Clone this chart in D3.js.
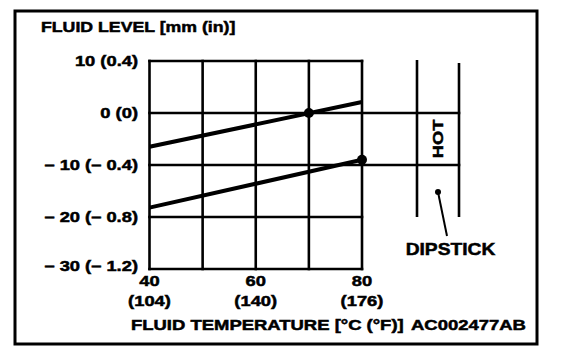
<!DOCTYPE html>
<html>
<head>
<meta charset="utf-8">
<script src="https://cdn.jsdelivr.net/npm/d3@7"></script>
<style>
  html, body { margin: 0; padding: 0; background: #fff; }
  svg { display: block; }
  text { font-family: "Liberation Sans", Arial, sans-serif; font-weight: bold; fill: #000; stroke: #000; stroke-width: 0.5; }
</style>
</head>
<body>
<svg id="chart" width="576" height="360"></svg>
<script>
// ---- data ----
const tempTicks = [40, 50, 60, 70, 80];
const labeledTemps = [40, 60, 80];
const labeledTempsF = ["(104)", "(140)", "(176)"];
const levelTicks = [10, 0, -10, -20, -30];
const levelLabels = ["10 (0.4)", "0 (0)", "\u2013 10 (\u2013 0.4)", "\u2013 20 (\u2013 0.8)", "\u2013 30 (\u2013 1.2)"];
const upperTemps = [40, 80];
const upperLevels = [-6.5, 2.1];
const lowerTemps = [40, 80];
const lowerLevels = [-18.2, -9.0];
const markerTemps = [70, 80];
const markerLevels = [0, -9.0];
const hotBand = [0, -10];
const yTitle = "FLUID LEVEL [mm (in)]";
const xTitle = "FLUID TEMPERATURE [\u00B0C (\u00B0F)]";
const figureCode = "AC002477AB";
const hotLabel = "HOT";
const dipstickLabel = "DIPSTICK";

// ---- layout ----
const svg = d3.select("#chart");
const x = d3.scaleLinear().domain([40, 80]).range([149.5, 362]);
const y = d3.scaleLinear().domain([10, -30]).range([61, 269]);
const STRETCH = 1.22;
const gridW = 2.6;

function stretchText(sel, k) {
  sel.each(function () {
    const len = this.getComputedTextLength();
    d3.select(this).attr("textLength", len * k).attr("lengthAdjust", "spacingAndGlyphs");
  });
  return sel;
}

// outer frame
svg.append("rect").attr("x", 15).attr("y", 11).attr("width", 522).attr("height", 333)
  .attr("fill", "none").attr("stroke", "#000").attr("stroke-width", 3);

// grid (vertical)
svg.append("g").selectAll("line").data(tempTicks).join("line")
  .attr("x1", d => x(d)).attr("x2", d => x(d))
  .attr("y1", y(10)).attr("y2", y(-30))
  .attr("stroke", "#000").attr("stroke-width", gridW).attr("stroke-linecap", "square");

// dipstick geometry
const dipL = 417, dipR = 459;

// grid (horizontal); the HOT band lines extend into the dipstick
svg.append("g").selectAll("line").data(levelTicks).join("line")
  .attr("x1", x(40))
  .attr("x2", d => hotBand.includes(d) ? dipR : x(80))
  .attr("y1", d => y(d)).attr("y2", d => y(d))
  .attr("stroke", "#000").attr("stroke-width", gridW).attr("stroke-linecap", "square");

// dipstick sides
svg.append("g").selectAll("line").data([dipL, dipR]).join("line")
  .attr("x1", d => d).attr("x2", d => d)
  .attr("y1", (d, i) => y(10) - (i === 0 ? 1 : -2)).attr("y2", y(-20))
  .attr("stroke", "#000").attr("stroke-width", gridW);

// data lines
const lineGen = d3.line().x(d => x(d[0])).y(d => y(d[1]));
[[upperTemps, upperLevels], [lowerTemps, lowerLevels]].forEach(([ts, vs]) => {
  svg.append("path").datum(d3.zip(ts, vs))
    .attr("d", lineGen).attr("fill", "none")
    .attr("stroke", "#000").attr("stroke-width", 4);
});

// markers
svg.append("g").selectAll("circle").data(d3.zip(markerTemps, markerLevels)).join("circle")
  .attr("cx", d => x(d[0])).attr("cy", d => y(d[1])).attr("r", 5).attr("fill", "#000");

// y tick labels
const yl = svg.append("g").selectAll("text").data(levelTicks).join("text")
  .attr("x", 138).attr("y", (d, i) => y(d) + (i === levelTicks.length - 1 ? 2 : 5))
  .attr("text-anchor", "end").attr("font-size", 15)
  .text((d, i) => levelLabels[i]);
stretchText(yl, STRETCH);

// x tick labels
const xl = svg.append("g").selectAll("text").data(labeledTemps).join("text")
  .attr("x", d => x(d)).attr("y", y(-30) + 17)
  .attr("text-anchor", "middle").attr("font-size", 15)
  .text(d => d);
stretchText(xl, STRETCH);
const xf = svg.append("g").selectAll("text").data(labeledTemps).join("text")
  .attr("x", d => x(d)).attr("y", y(-30) + 37)
  .attr("text-anchor", "middle").attr("font-size", 15)
  .text((d, i) => labeledTempsF[i]);
stretchText(xf, STRETCH);

// titles
stretchText(svg.append("text").attr("x", 41).attr("y", 32).attr("font-size", 15).text(yTitle), 1.18);
stretchText(svg.append("text").attr("x", 131).attr("y", 330).attr("font-size", 15).text(xTitle), 1.23);
stretchText(svg.append("text").attr("x", 411).attr("y", 330).attr("font-size", 15).text(figureCode), 1.23);

// HOT label (rotated)
const hotY = (y(hotBand[0]) + y(hotBand[1])) / 2;
stretchText(svg.append("text")
  .attr("transform", `translate(443,${hotY}) rotate(-90)`)
  .attr("text-anchor", "middle").attr("font-size", 15).text(hotLabel), 1.22);

// dipstick pointer
svg.append("circle").attr("cx", 438).attr("cy", 192).attr("r", 3).attr("fill", "#000");
svg.append("line").attr("x1", 438).attr("y1", 192).attr("x2", 447).attr("y2", 236)
  .attr("stroke", "#000").attr("stroke-width", 2);
stretchText(svg.append("text").attr("x", 450.5).attr("y", 255)
  .attr("text-anchor", "middle").attr("font-size", 17).text(dipstickLabel), 1.13);
</script>
</body>
</html>
